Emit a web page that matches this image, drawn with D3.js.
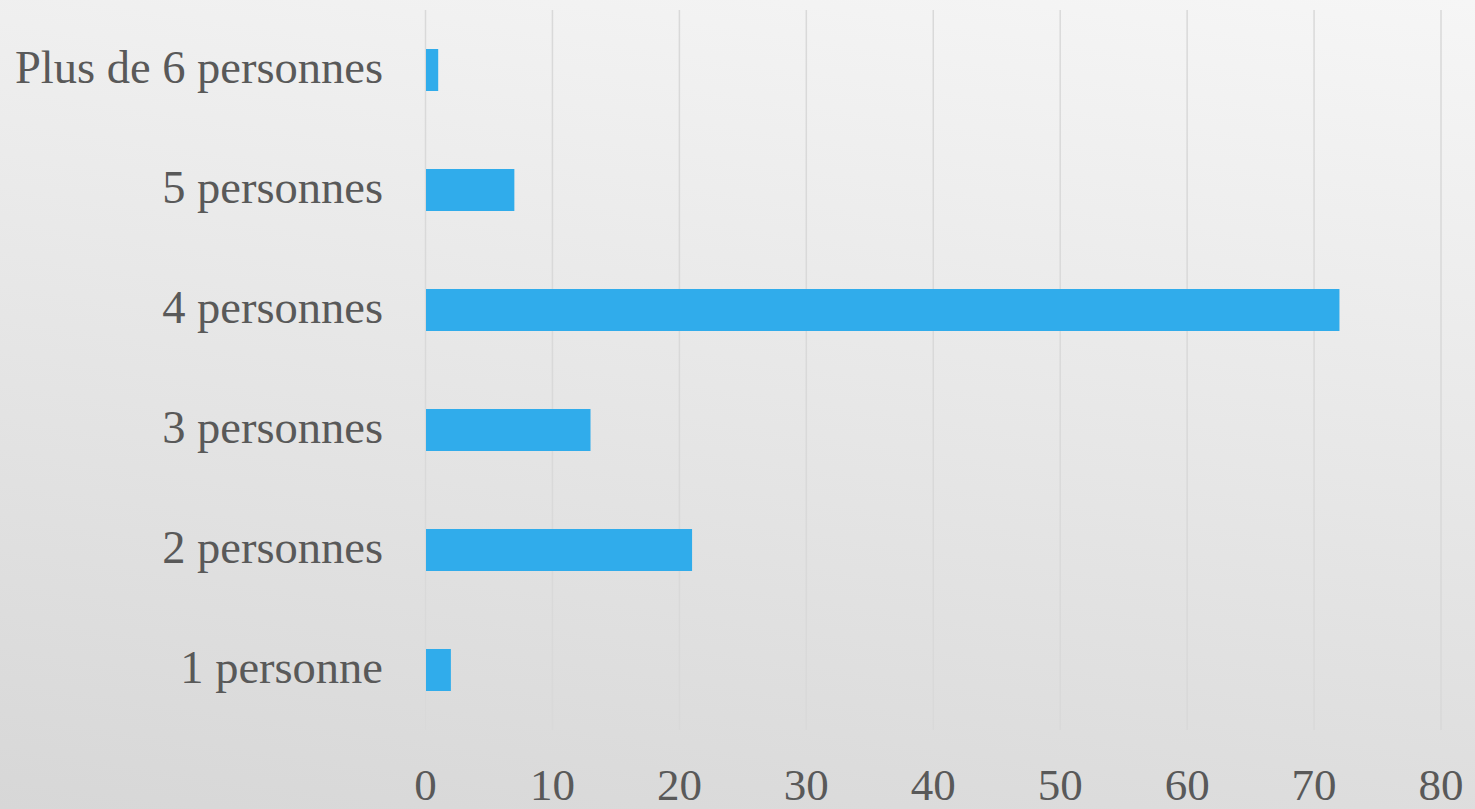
<!DOCTYPE html>
<html><head><meta charset="utf-8">
<script src="https://cdn.jsdelivr.net/npm/d3@7"></script>
<style>html,body{margin:0;padding:0;overflow:hidden;}</style>
</head><body>
<svg id="chart" width="1475" height="809"></svg>
<script>
const categories = ["Plus de 6 personnes","5 personnes","4 personnes","3 personnes","2 personnes","1 personne"];
const values = [1, 7, 72, 13, 21, 2];
const tickValues = [0,10,20,30,40,50,60,70,80];

const W = 1475, H = 809;
const svg = d3.select("#chart");
const defs = svg.append("defs");
const grad = defs.append("linearGradient").attr("id","bg")
  .attr("gradientUnits","userSpaceOnUse")
  .attr("x1",1475).attr("y1",0).attr("x2",1332).attr("y2",1000);
grad.append("stop").attr("offset","0%").attr("stop-color","#f6f6f6");
grad.append("stop").attr("offset","100%").attr("stop-color","#d7d7d7");
svg.append("rect").attr("width",W).attr("height",H).attr("fill","url(#bg)");

const x = d3.scaleLinear().domain([0,80]).range([425.5,1441]);
const y = d3.scaleBand().domain(categories).range([10,730]).paddingInner(0.65).paddingOuter(0.325);

svg.append("g").selectAll("line").data(tickValues).join("line")
  .attr("x1",d=>x(d)).attr("x2",d=>x(d)).attr("y1",10).attr("y2",730)
  .attr("stroke","#d9d9d9").attr("stroke-width",1.5);

svg.append("g").selectAll("rect").data(values).join("rect")
  .attr("x",x(0)+0.5).attr("y",(d,i)=>y(categories[i]))
  .attr("width",d=>x(d)-x(0)-0.5).attr("height",y.bandwidth())
  .attr("fill","#30aceb");

const font = "'Liberation Serif','Times New Roman',serif";
svg.append("g").selectAll("text").data(categories).join("text")
  .attr("x",383).attr("y",d=>y(d)+y.bandwidth()/2+13)
  .attr("text-anchor","end").attr("font-family",font).attr("font-size",46.5)
  .attr("fill","#595959").text(d=>d);

svg.append("g").selectAll("text").data(tickValues).join("text")
  .attr("x",d=>x(d)).attr("y",800)
  .attr("text-anchor","middle").attr("font-family",font).attr("font-size",45)
  .attr("fill","#595959").text(d=>d);
</script>
</body></html>
